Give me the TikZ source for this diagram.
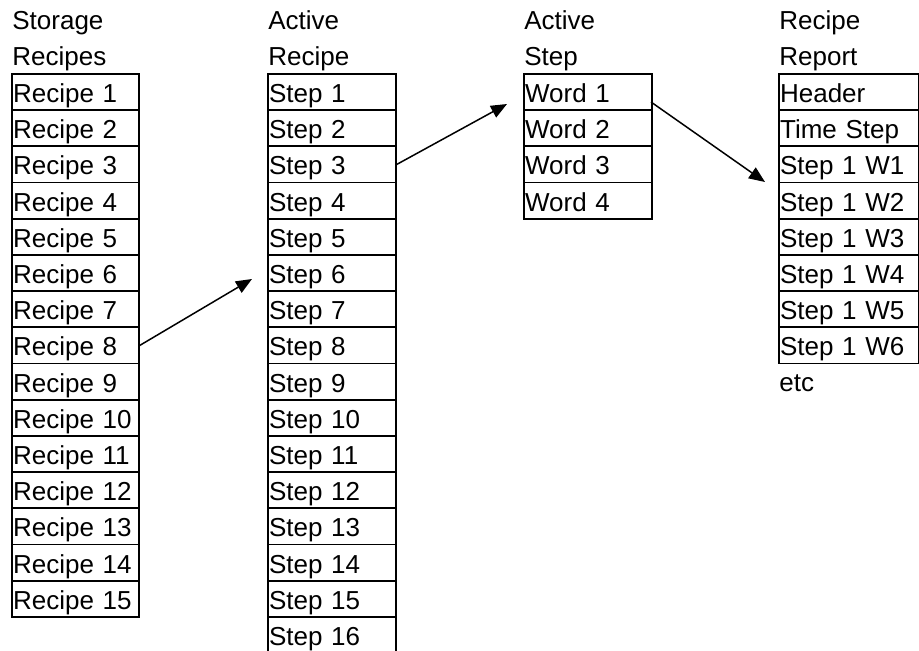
\documentclass[tikz,border=0pt]{standalone}
\usepackage{fontspec}
\setmainfont{Liberation Sans}
\usetikzlibrary{arrows.meta}
\begin{document}
\begin{tikzpicture}[x=1pt,y=1pt,
  txt/.style={font=\fontsize{26}{30}\selectfont},
  cell/.style={txt, draw, line width=1.8pt, rectangle, inner xsep=1.2pt, inner ysep=0pt,
    minimum height=36.2pt, text height=20.8pt, text depth=0pt, align=left, anchor=north west},
  hdr/.style={txt, anchor=base west, inner sep=0pt},
  conn/.style={line width=1.5pt, -{Triangle[length=16pt,width=13pt]}}]
\useasboundingbox (0,0) rectangle (919,-651);
% headers
\node[hdr] (h1a) at (12.2,-29.5) {Storage};
\node[hdr] (h1b) at (12.2,-65) {Recipes};
\node[hdr] (h2a) at (268.2,-29.5) {Active};
\node[hdr] (h2b) at (268.2,-65) {Recipe};
\node[hdr] (h3a) at (524.2,-29.5) {Active};
\node[hdr] (h3b) at (524.2,-65) {Step};
\node[hdr] (h4a) at (779.2,-29.5) {Recipe};
\node[hdr] (h4b) at (779.2,-65) {Report};
% columns
\foreach \i in {1,...,15}
  \node[cell, text width=124.6pt] (r\i) at (11,{-73-(\i-1)*36.2}) {Recipe \i};
\foreach \i in {1,...,16}
  \node[cell, text width=125.6pt] (s\i) at (267,{-73-(\i-1)*36.2}) {Step \i};
\foreach \i in {1,...,4}
  \node[cell, text width=125.6pt] (w\i) at (523,{-73-(\i-1)*36.2}) {Word \i};
\node[cell, text width=137.6pt] (p1) at (778,-73) {Header};
\node[cell, text width=137.6pt] (p2) at (778,{-73-36.2}) {Time Step};
\foreach \i [evaluate=\i as \k using int(\i+2)] in {1,...,6}
  \node[cell, text width=137.6pt] (p\k) at (778,{-73-(\i+1)*36.2}) {Step 1 W\i};
\node[hdr] (etc) at (779.2,-391) {etc};
% connector ends
\coordinate (e1) at (252,-279);
\coordinate (e2) at (507,-104);
\coordinate (b3) at (651,-102);
\coordinate (e3) at (765,-182);
\draw[conn] (r8.east) -- (e1);
\draw[conn] (s3.east) -- (e2);
\draw[conn] (b3) -- (e3);
\end{tikzpicture}
\end{document}
